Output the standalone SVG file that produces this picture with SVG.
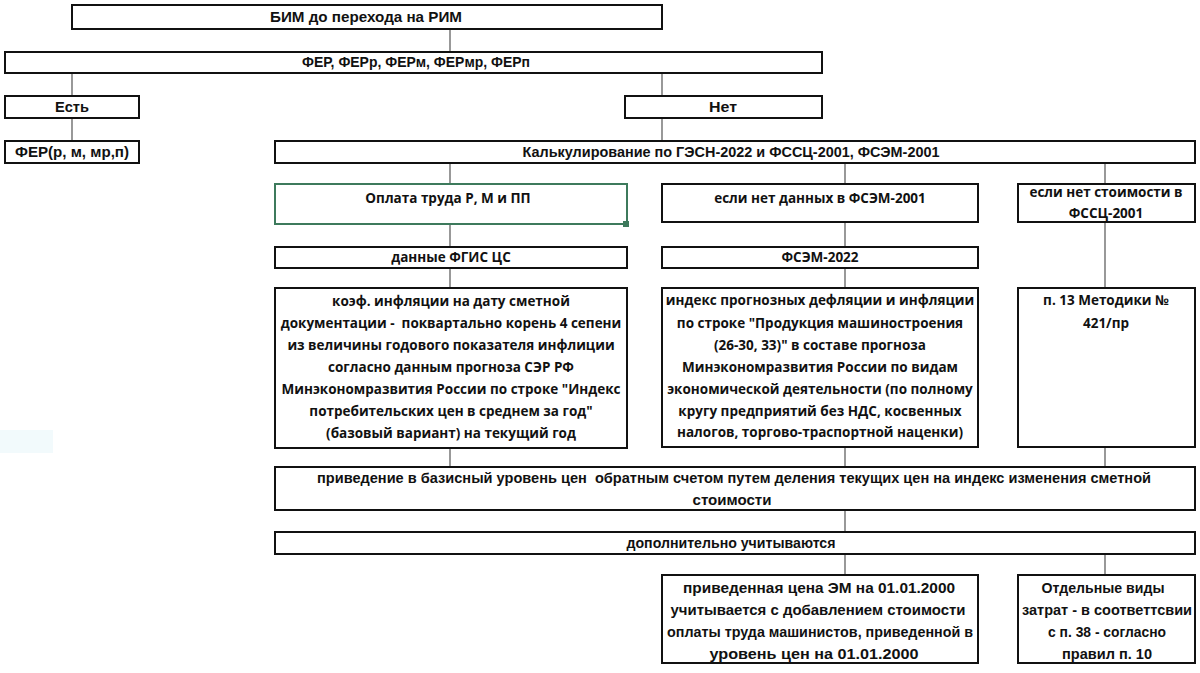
<svg xmlns="http://www.w3.org/2000/svg" width="1200" height="673" viewBox="0 0 1200 673">
<style>
.b{fill:#fff;stroke:#111;stroke-width:2}
.g{fill:#fff;stroke:#3d7a5c;stroke-width:2}
.t{font-family:"Open Sans","Liberation Sans",sans-serif;font-weight:bold;font-size:13.5px;fill:#111;text-anchor:middle}
.c{font-family:"Liberation Sans","Open Sans",sans-serif;font-weight:bold;font-size:15px;fill:#111;text-anchor:middle}
.l{stroke:#555;stroke-width:1.2;fill:none}
</style>
<rect x="0" y="430" width="53" height="23" fill="#f2fafc"/>
<g id="connectors">
<path class="l" d="M450 29V52M72 73V96M662 73V96M72 118V141M662 118V141M450 163V184M845 163V184M1105 163V184M450 224V247M845 222V247M1105 222V288M450 268V288M845 268V288M450 448V467M845 447V467M1105 447V467M845 510V532M845 554V575M1105 554V575"/>
</g>
<g id="n1"><rect class="b" x="72" y="5" width="590" height="24"/><text class="c" x="366" y="22" textLength="192" lengthAdjust="spacingAndGlyphs">БИМ до перехода на РИМ</text></g>
<g id="n2"><rect class="b" x="5" y="52" width="817" height="21"/><text class="c" x="416" y="67" textLength="228" lengthAdjust="spacingAndGlyphs">ФЕР, ФЕРр, ФЕРм, ФЕРмр, ФЕРп</text></g>
<g id="n3"><rect class="b" x="5" y="96" width="134" height="22"/><text class="c" x="72" y="112" textLength="34" lengthAdjust="spacingAndGlyphs">Есть</text></g>
<g id="n4"><rect class="b" x="625" y="96" width="197" height="22"/><text class="c" x="723" y="112" textLength="28" lengthAdjust="spacingAndGlyphs">Нет</text></g>
<g id="n5"><rect class="b" x="5" y="141" width="134" height="22"/><text class="c" x="72" y="157" textLength="114" lengthAdjust="spacingAndGlyphs">ФЕР(р, м, мр,п)</text></g>
<g id="n6"><rect class="b" x="275" y="141" width="920" height="22"/><text class="c" x="731" y="157" textLength="417" lengthAdjust="spacingAndGlyphs">Калькулирование по ГЭСН-2022 и ФССЦ-2001, ФСЭМ-2001</text></g>
<g id="n7"><rect class="g" x="275" y="184" width="352" height="40"/><rect x="623" y="221" width="6" height="6" fill="#3d7a5c"/><text class="t" x="448" y="203">Оплата труда Р, М и ПП</text></g>
<g id="n8"><rect class="b" x="662" y="184" width="316" height="38"/><text class="t" x="820" y="203">если нет данных в ФСЭМ-2001</text></g>
<g id="n9"><rect class="b" x="1018" y="184" width="177" height="38"/><text class="t" x="1106" y="197">если нет стоимости в</text><text class="t" x="1106" y="218">ФССЦ-2001</text></g>
<g id="n10"><rect class="b" x="275" y="247" width="352" height="21"/><text class="t" x="451" y="262">данные ФГИС ЦС</text></g>
<g id="n11"><rect class="b" x="662" y="247" width="316" height="21"/><text class="t" x="820" y="262">ФСЭМ-2022</text></g>
<g id="n12"><rect class="b" x="275" y="288" width="352" height="160"/>
<text class="t" x="451" y="306">коэф. инфляции на дату сметной</text>
<text class="t" x="451" y="328" xml:space="preserve">документации -  поквартально корень 4 сепени</text>
<text class="t" x="451" y="350">из величины годового показателя инфлиции</text>
<text class="t" x="451" y="372">согласно данным прогноза СЭР РФ</text>
<text class="t" x="451" y="394">Минэкономразвития России по строке "Индекс</text>
<text class="t" x="451" y="416">потребительских цен в среднем за год"</text>
<text class="t" x="451" y="438">(базовый вариант) на текущий год</text></g>
<g id="n13"><rect class="b" x="662" y="288" width="316" height="159"/>
<text class="t" x="820" y="305">индекс прогнозных дефляции и инфляции</text>
<text class="t" x="820" y="328">по строке "Продукция машиностроения</text>
<text class="t" x="820" y="350">(26-30, 33)" в составе прогноза</text>
<text class="t" x="820" y="372">Минэкономразвития России по видам</text>
<text class="t" x="820" y="394">экономической деятельности (по полному</text>
<text class="t" x="820" y="416">кругу предприятий без НДС, косвенных</text>
<text class="t" x="820" y="437">налогов, торгово-траспортной наценки)</text></g>
<g id="n14"><rect class="b" x="1018" y="288" width="177" height="159"/>
<text class="t" x="1106" y="305">п. 13 Методики №</text>
<text class="t" x="1106" y="328">421/пр</text></g>
<g id="n15"><rect class="b" x="275" y="467" width="920" height="43"/>
<text class="c" x="734" y="483" textLength="834" lengthAdjust="spacingAndGlyphs" xml:space="preserve">приведение в базисный уровень цен  обратным счетом путем деления текущих цен на индекс изменения сметной</text>
<text class="c" x="732" y="505" textLength="79" lengthAdjust="spacingAndGlyphs">стоимости</text></g>
<g id="n16"><rect class="b" x="275" y="532" width="920" height="22"/><text class="c" x="731" y="548" textLength="209" lengthAdjust="spacingAndGlyphs">дополнительно учитываются</text></g>
<g id="n17"><rect class="b" x="662" y="575" width="316" height="88"/>
<text class="c" x="819" y="593" textLength="272" lengthAdjust="spacingAndGlyphs">приведенная цена ЭМ на 01.01.2000</text>
<text class="c" x="818" y="615" textLength="295" lengthAdjust="spacingAndGlyphs">учитывается с добавлением стоимости</text>
<text class="c" x="820" y="637" textLength="306" lengthAdjust="spacingAndGlyphs">оплаты труда машинистов, приведенной в</text>
<text class="c" x="814" y="659" textLength="209" lengthAdjust="spacingAndGlyphs">уровень цен на 01.01.2000</text></g>
<g id="n18"><rect class="b" x="1018" y="575" width="177" height="88"/>
<text class="c" x="1103" y="593" textLength="123" lengthAdjust="spacingAndGlyphs">Отдельные виды</text>
<text class="c" x="1107" y="615" textLength="170" lengthAdjust="spacingAndGlyphs">затрат - в соответтсвии</text>
<text class="c" x="1107" y="637" textLength="118" lengthAdjust="spacingAndGlyphs">с п. 38 - согласно</text>
<text class="c" x="1107" y="659" textLength="90" lengthAdjust="spacingAndGlyphs">правил п. 10</text></g>
</svg>
